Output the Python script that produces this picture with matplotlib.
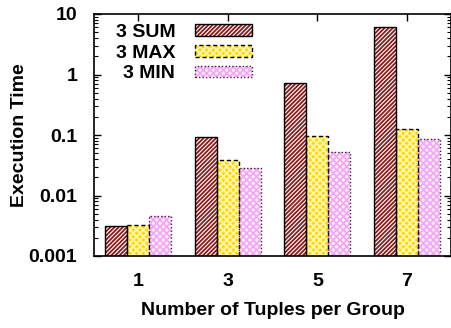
import matplotlib
matplotlib.use("Agg")
import matplotlib.pyplot as plt
import numpy as np
from matplotlib.patches import Patch
from matplotlib.ticker import LogLocator, FixedLocator, NullFormatter

categories = ['1', '3', '5', '7']
series_names = ['3 SUM', '3 MAX', '3 MIN']
sum_vals = [0.0030, 0.094, 0.72, 6.0]
max_vals = [0.0032, 0.038, 0.096, 0.124]
min_vals = [0.0044, 0.0285, 0.052, 0.085]
y_ticks = [0.001, 0.01, 0.1, 1, 10]
y_ticklabels = ['0.001', '0.01', '0.1', '1', '10']

plt.rcParams['font.family'] = ['Liberation Sans', 'DejaVu Sans']
plt.rcParams['font.weight'] = 'bold'
plt.rcParams['hatch.linewidth'] = 1.3

fig = plt.figure(figsize=(4.51, 3.28), dpi=100)
ax = fig.add_axes([94/451, 1-256/328, 357/451, 242/328])
ax.set_yscale('log')

x = np.arange(len(categories))
w = 0.245
styles = [
    dict(face='white', hatchc='#8B1A1A', hatch='////////', ls='-', lw=1.0, ec='black'),
    dict(face='#FFD700', hatchc='#FFF6B0', hatch='xxxxx', ls=(0, (3, 2)), lw=1.0, ec='black'),
    dict(face='#FFF4FF', hatchc='#F6A6F6', hatch='xxxxx', ls=(0, (1, 1.5)), lw=1.0, ec='#402040'),
]
data = [sum_vals, max_vals, min_vals]
handles = []
for i, (vals, st, name) in enumerate(zip(data, styles, series_names)):
    pos = x + (i - 1) * w
    ax.bar(pos, vals, width=w, bottom=1e-4, color=st['face'], edgecolor=st['hatchc'],
           hatch=st['hatch'], linewidth=0, zorder=2)
    ax.bar(pos, vals, width=w, bottom=1e-4, fill=False, edgecolor=st['ec'],
           linewidth=st['lw'], linestyle=st['ls'], zorder=3)
    fill_h = Patch(facecolor=st['face'], edgecolor=st['hatchc'], hatch=st['hatch'], linewidth=0)
    line_h = Patch(fill=False, edgecolor=st['ec'], linewidth=st['lw'], linestyle=st['ls'])
    handles.append((fill_h, line_h))

ax.set_xlim(-0.49, 3.49)
ax.set_ylim(1e-3, 10)
ax.set_xticks(x)
ax.set_xticklabels(categories)
ax.yaxis.set_major_locator(FixedLocator(y_ticks))
ax.set_yticklabels(y_ticklabels)
ax.yaxis.set_minor_locator(LogLocator(base=10, subs=np.arange(2, 10)))
ax.yaxis.set_minor_formatter(NullFormatter())
ax.tick_params(axis='both', which='major', direction='in', length=5, width=1,
               top=True, right=True, labelsize=14)
ax.tick_params(axis='y', which='minor', direction='in', length=3, width=0.8, right=True)
ax.tick_params(axis='x', which='major', pad=12)
ax.tick_params(axis='y', which='major', pad=12)
for lab in ax.get_xticklabels() + ax.get_yticklabels():
    lab.set_fontweight('bold')
for s in ax.spines.values():
    s.set_linewidth(1.2)

ax.set_xlabel('Number of Tuples per Group', fontsize=14, fontweight='bold')
ax.set_ylabel('Execution Time', fontsize=14, fontweight='bold')
ax.xaxis.set_label_coords(0.5, -0.19)
ax.yaxis.set_label_coords(-0.185, 0.5)

leg = ax.legend(handles, series_names, loc='upper right', bbox_to_anchor=((252-94)/357, 0.96),
                frameon=False, markerfirst=False, handlelength=2.95, handleheight=0.55,
                handletextpad=1.0, labelspacing=0.2, borderpad=0, borderaxespad=0,
                prop=dict(size=14, weight='bold'))

fig.savefig('out.png', dpi=100)
